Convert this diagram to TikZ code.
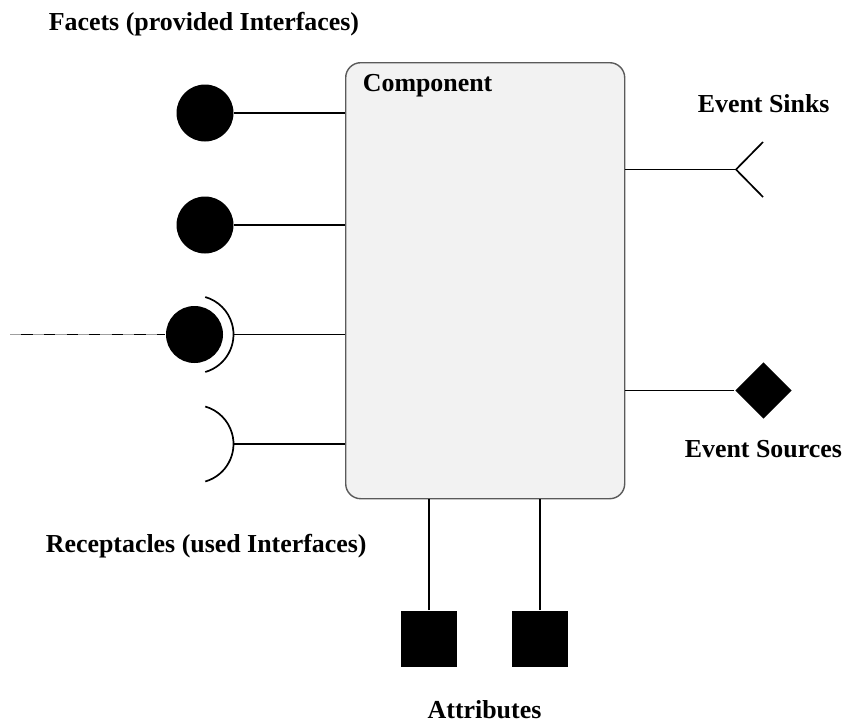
\documentclass[tikz,border=0pt]{standalone}
\usepackage{fontspec}
\setmainfont{Liberation Serif}
\usetikzlibrary{shapes.geometric}
\definecolor{compfill}{HTML}{F2F2F2}
\definecolor{compedge}{HTML}{5A5A5A}
\begin{document}
\begin{tikzpicture}[x=1pt,y=-1pt, line width=1.7pt,
  lbl/.style={font=\fontsize{25.9}{30}\selectfont\bfseries, inner sep=0pt, anchor=base west},
  ball/.style={circle, fill=black, draw=none, minimum size=57pt, inner sep=0pt},
  attrbox/.style={rectangle, fill=black, draw=none, minimum size=56pt, inner sep=0pt},
  srcbox/.style={diamond, fill=black, draw=none, minimum width=57pt, minimum height=57pt, inner sep=0pt},
  comp/.style={draw=compedge, fill=compfill, rounded corners=15pt, line width=1.4pt, inner sep=0pt, minimum width=279pt, minimum height=436pt, anchor=north west}]
\useasboundingbox (0,0) rectangle (844,723);
% component
\node[comp] (comp) at (345,62) {};
\node[lbl] (complbl) at (362,91.5) {Component};
% facets
\node[ball] (f1) at (205,113) {};
\node[ball] (f2) at (205,225) {};
\node[ball] (f3) at (194.5,334.5) {};
\draw (f1.east) -- (f1.east -| comp.west);
\draw (f2.east) -- (f2.east -| comp.west);
% receptacle connected to facet
\coordinate (r3) at (233.5,334.5);
\draw ([shift={(74:39)}]f3.center) arc[start angle=74, end angle=-74, radius=39];
\draw (r3) -- (r3 -| comp.west);
\coordinate (dstart) at (10,334.5);
\draw[gray!75, line width=1.5pt] (dstart) -- (f3.west);
\draw[line width=1.5pt, dash pattern=on 11.3pt off 11.3pt, dash phase=11.3pt] (dstart) -- (f3.west);
% receptacle
\coordinate (r4c) at (194.5,444);
\coordinate (r4) at (233.5,444);
\draw ([shift={(74:39)}]r4c) arc[start angle=74, end angle=-74, radius=39];
\draw (r4) -- (r4 -| comp.west);
% event sink
\coordinate (sink) at (736,169.5);
\coordinate (sinkA) at (763,142);
\coordinate (sinkB) at (763,197);
\draw (sink -| comp.east) -- (sink);
\draw (sinkA) -- (sink) -- (sinkB);
% event source
\node[srcbox] (src) at (763.5,390.5) {};
\draw (src.west -| comp.east) -- (src.west);
% attributes
\node[attrbox] (a1) at (429,639) {};
\node[attrbox] (a2) at (540,639) {};
\draw (a1.north) -- (a1.north |- comp.south);
\draw (a2.north) -- (a2.north |- comp.south);
% labels
\node[lbl] (lfacets) at (48,30) {Facets (provided Interfaces)};
\node[lbl] (lsinks) at (697,112) {Event Sinks};
\node[lbl] (lsources) at (684,457) {Event Sources};
\node[lbl] (lrecept) at (45,552) {Receptacles (used Interfaces)};
\node[lbl, anchor=base] (lattr) at (484.5,718.5) {Attributes};
\end{tikzpicture}
\end{document}
